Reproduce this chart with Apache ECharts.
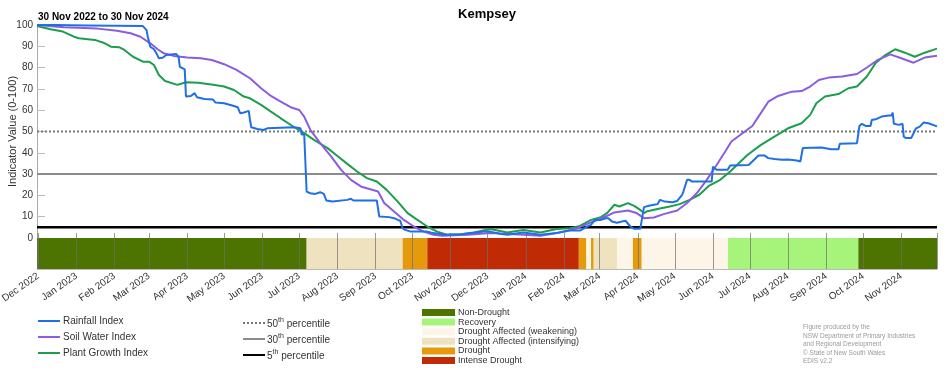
<!DOCTYPE html>
<html><head><meta charset="utf-8">
<script src="https://cdn.jsdelivr.net/npm/echarts@6/dist/echarts.min.js"></script>
<style>html,body{margin:0;padding:0;background:#fff}#c{width:952px;height:370px}</style>
</head><body><div id="c"></div>
<script>
const startDate = '2022-11-30';
const endDate = '2024-11-30';
const yTicks = [0, 10, 20, 30, 40, 50, 60, 70, 80, 90, 100];

const rainfallIndex = [['2022-11-30',100],['2022-12-15',100],['2023-01-10',99.8],['2023-02-24',99.5],['2023-02-27',97.6],['2023-02-28',94.5],['2023-03-02',89.8],['2023-03-05',88.6],['2023-03-07',86.7],['2023-03-09',84.4],['2023-03-12',84.6],['2023-03-15',85.9],['2023-03-23',86.4],['2023-03-25',85],['2023-03-26',80.4],['2023-03-30',79.2],['2023-03-31',66.4],['2023-04-01',65.6],['2023-04-04',66.7],['2023-04-07',68],['2023-04-09',66.1],['2023-04-15',65.3],['2023-04-22',65],['2023-04-24',63.6],['2023-05-01',63.3],['2023-05-02',62.5],['2023-05-09',62],['2023-05-12',61.4],['2023-05-14',58.6],['2023-05-17',58.9],['2023-05-21',59.7],['2023-05-22',55.4],['2023-05-23',52],['2023-05-28',51.2],['2023-06-02',50.7],['2023-06-05',51.5],['2023-06-27',52],['2023-07-02',51.5],['2023-07-03',48.4],['2023-07-04',48.9],['2023-07-05',49.2],['2023-07-07',21.8],['2023-07-10',21],['2023-07-14',20.7],['2023-07-18',21.5],['2023-07-21',20.7],['2023-07-23',17.6],['2023-07-28',17.1],['2023-08-09',17.9],['2023-08-12',18.4],['2023-08-14',17.6],['2023-09-02',17.6],['2023-09-04',10.1],['2023-09-12',9.8],['2023-09-16',9.3],['2023-09-19',8.5],['2023-09-21',8.1],['2023-09-23',4.6],['2023-09-25',3.8],['2023-09-29',3.1],['2023-10-13',3],['2023-10-18',2.3],['2023-10-27',1.5],['2023-11-10',1.8],['2023-11-28',3],['2023-12-03',3],['2023-12-11',2],['2023-12-17',1.5],['2023-12-30',2.6],['2024-01-13',1.5],['2024-01-26',2.3],['2024-02-06',3.5],['2024-02-14',3.5],['2024-02-20',5.4],['2024-02-23',6.2],['2024-02-26',8.5],['2024-03-02',8.5],['2024-03-06',9.3],['2024-03-08',9.3],['2024-03-11',7.7],['2024-03-15',7.2],['2024-03-19',7.7],['2024-03-22',8.1],['2024-03-26',5.4],['2024-03-29',4.3],['2024-04-03',4.3],['2024-04-06',14.5],['2024-04-10',15.1],['2024-04-14',15.6],['2024-04-17',15.9],['2024-04-19',17.9],['2024-04-23',17.1],['2024-04-29',16.8],['2024-05-03',17.4],['2024-05-07',20.3],['2024-05-08',21.8],['2024-05-11',27.3],['2024-05-13',27.3],['2024-05-15',26.5],['2024-05-31',26.5],['2024-06-01',33.5],['2024-06-04',32],['2024-06-13',32],['2024-06-15',34],['2024-06-30',34.3],['2024-07-03',35.9],['2024-07-08',38.7],['2024-07-13',38.7],['2024-07-16',37.5],['2024-07-21',37.1],['2024-07-27',36.7],['2024-08-01',36.9],['2024-08-08',36.4],['2024-08-11',35.9],['2024-08-13',42.2],['2024-08-28',42.5],['2024-09-05',41.7],['2024-09-11',41.7],['2024-09-12',44.2],['2024-09-26',44.5],['2024-09-28',52.6],['2024-09-30',53.6],['2024-10-03',52.6],['2024-10-07',52.6],['2024-10-08',55.4],['2024-10-12',55.9],['2024-10-16',57],['2024-10-22',57.5],['2024-10-24',57.5],['2024-10-25',58.9],['2024-10-26',53.6],['2024-10-30',53.1],['2024-11-02',53.6],['2024-11-03',47.6],['2024-11-05',46.9],['2024-11-09',46.9],['2024-11-11',49.2],['2024-11-13',51.5],['2024-11-16',52.3],['2024-11-19',54.2],['2024-11-23',53.9],['2024-11-30',52.4]];

const soilWaterIndex = [['2022-11-30',100],['2022-12-22',98.9],['2023-01-18',98.3],['2023-02-03',97.3],['2023-02-14',96.1],['2023-02-22',94.5],['2023-03-02',91.4],['2023-03-08',88.6],['2023-03-13',86.7],['2023-03-21',85.5],['2023-04-01',84.7],['2023-04-12',84.4],['2023-04-21',83.6],['2023-05-01',81.6],['2023-05-11',78.9],['2023-05-22',75],['2023-05-31',70.3],['2023-06-08',66.7],['2023-06-16',64],['2023-06-24',61.4],['2023-07-01',60.1],['2023-07-05',57],['2023-07-10',50.8],['2023-07-18',44.5],['2023-07-27',38.2],['2023-08-04',32],['2023-08-12',27.3],['2023-08-20',24.2],['2023-09-03',21.8],['2023-09-08',16.4],['2023-09-16',12.4],['2023-09-24',8.5],['2023-10-02',5.4],['2023-10-10',3],['2023-10-18',1.5],['2023-10-25',1],['2023-11-15',1.5],['2023-12-03',2.3],['2023-12-30',1.5],['2024-01-13',1],['2024-01-26',2.3],['2024-02-12',4.6],['2024-02-23',7.3],['2024-03-06',10.1],['2024-03-13',12],['2024-03-24',12.9],['2024-03-31',11.7],['2024-04-06',9.3],['2024-04-14',9.6],['2024-04-22',11.2],['2024-05-03',12.9],['2024-05-11',16.4],['2024-05-19',21.1],['2024-05-27',27.3],['2024-06-04',34.3],['2024-06-11',40.6],['2024-06-16',45.3],['2024-06-25',49.2],['2024-07-03',52.6],['2024-07-08',57],['2024-07-16',64],['2024-07-24',66.7],['2024-08-04',68.7],['2024-08-12',69],['2024-08-19',71.1],['2024-08-26',74.2],['2024-09-03',75.3],['2024-09-14',75.8],['2024-09-26',77],['2024-10-05',80.4],['2024-10-13',83.6],['2024-10-23',86.2],['2024-11-01',84.4],['2024-11-11',82.3],['2024-11-20',84.7],['2024-11-30',85.6]];

const plantGrowthIndex = [['2022-11-30',99.5],['2022-12-11',98],['2022-12-21',96.9],['2022-12-30',94.5],['2023-01-03',93.8],['2023-01-16',93],['2023-01-23',91.7],['2023-01-29',89.8],['2023-02-05',89.5],['2023-02-09',88.3],['2023-02-16',85.1],['2023-02-24',82.8],['2023-03-01',82.8],['2023-03-05',81.2],['2023-03-09',76.5],['2023-03-14',73.7],['2023-03-24',71.9],['2023-03-31',73.1],['2023-04-10',72.9],['2023-04-22',71.9],['2023-05-01',71.1],['2023-05-09',69.5],['2023-05-17',66.4],['2023-05-22',65.6],['2023-05-31',62.5],['2023-06-08',59.3],['2023-06-16',56.2],['2023-06-27',52],['2023-07-05',49.2],['2023-07-13',46.1],['2023-07-24',42.2],['2023-07-31',39],['2023-08-09',34.8],['2023-08-17',31.2],['2023-08-25',28.1],['2023-09-02',26.5],['2023-09-10',22.6],['2023-09-19',17.1],['2023-09-27',11.7],['2023-10-05',8.5],['2023-10-13',5.4],['2023-10-21',3],['2023-10-29',1.5],['2023-11-09',1.8],['2023-11-20',2.6],['2023-12-03',4.2],['2023-12-17',2.6],['2023-12-30',3.8],['2024-01-13',2.6],['2024-01-26',4.2],['2024-02-06',4.6],['2024-02-14',5.7],['2024-02-23',8.5],['2024-03-02',9.8],['2024-03-07',11.7],['2024-03-13',15.6],['2024-03-17',14.8],['2024-03-24',16.4],['2024-03-29',15.1],['2024-04-03',13.2],['2024-04-06',11.7],['2024-04-08',12.4],['2024-04-17',13.6],['2024-04-27',14.8],['2024-05-05',15.9],['2024-05-13',17.9],['2024-05-21',20.3],['2024-05-29',24.6],['2024-06-07',27.3],['2024-06-15',31.2],['2024-06-29',39],['2024-07-10',43.7],['2024-07-21',47.6],['2024-08-01',51.5],['2024-08-12',53.9],['2024-08-19',57.8],['2024-08-24',63.3],['2024-08-31',66.4],['2024-09-11',67.6],['2024-09-19',70.3],['2024-09-26',71.1],['2024-10-04',75.8],['2024-10-11',82],['2024-10-19',85.9],['2024-10-27',88.6],['2024-11-04',87],['2024-11-12',85.1],['2024-11-20',87],['2024-11-30',88.9]];

const percentileNames = ['50th percentile', '30th percentile', '5th percentile'];
const percentileValues = [50, 30, 5];

const droughtClasses = ['Non-Drought', 'Recovery', 'Drought Affected (weakening)', 'Drought Affected (intensifying)', 'Drought', 'Intense Drought'];
const droughtPeriods = [
  ['2022-11-30','2023-07-07',0],
  ['2023-07-07','2023-09-23',3],
  ['2023-09-23','2023-10-13',4],
  ['2023-10-13','2024-02-13',5],
  ['2024-02-13','2024-02-19',4],
  ['2024-02-19','2024-02-23',2],
  ['2024-02-23','2024-02-25',4],
  ['2024-02-25','2024-03-15',3],
  ['2024-03-15','2024-03-28',2],
  ['2024-03-28','2024-04-04',4],
  ['2024-04-04','2024-06-13',2],
  ['2024-06-13','2024-09-27',1],
  ['2024-09-27','2024-11-30',0]
];

const footerLines = ['Figure produced by the', 'NSW Department of Primary Industries', 'and Regional Development', '\u00A9 State of New South Wales', 'EDIS v2.2'];

// styles
const lineColors = {'Rainfall Index': '#1f6fe6', 'Soil Water Index': '#8a5ce0', 'Plant Growth Index': '#1c9e4c'};
const pctStyles = [
  {color: '#777', width: 2, type: [2, 2]},
  {color: '#8c8c8c', width: 2, type: 'solid'},
  {color: '#000', width: 2.5, type: 'solid'}
];
const droughtColors = ['#4d7300', '#a6f57a', '#fdf5e8', '#eee2bf', '#e59a0c', '#c02a05'];
const FONT = 'Liberation Sans';
const MONTH = 30 * 24 * 3600 * 1000;

const chart = echarts.init(document.getElementById('c'));

const series = [];
percentileNames.forEach((n, i) => {
  series.push({
    name: n, type: 'line', xAxisIndex: 0, yAxisIndex: 0, symbol: 'none', silent: true,
    data: [[startDate, percentileValues[i]], [endDate, percentileValues[i]]],
    lineStyle: pctStyles[i], itemStyle: {color: pctStyles[i].color}, z: 2
  });
});
[['Plant Growth Index', plantGrowthIndex], ['Soil Water Index', soilWaterIndex], ['Rainfall Index', rainfallIndex]].forEach(([n, d]) => {
  series.push({
    name: n, type: 'line', xAxisIndex: 0, yAxisIndex: 0, symbol: 'none', data: d,
    lineStyle: {color: lineColors[n], width: 2}, itemStyle: {color: lineColors[n]}, z: 3
  });
});
droughtClasses.forEach((n, ci) => {
  series.push({
    name: n, type: 'custom', xAxisIndex: 1, yAxisIndex: 1, z: 1,
    dimensions: [{name: 's', type: 'time'}, {name: 'e', type: 'time'}],
    encode: {x: [0, 1]},
    itemStyle: {color: droughtColors[ci]},
    data: droughtPeriods.filter(p => p[2] === ci).map(p => [p[0], p[1]]),
    renderItem: function (params, api) {
      const p0 = api.coord([api.value(0), 1]);
      const p1 = api.coord([api.value(1), 0]);
      return {type: 'rect', shape: {x: p0[0], y: p0[1], width: p1[0] - p0[0], height: p1[1] - p0[1]},
        style: {fill: droughtColors[ci]}};
    }
  });
});

const option = {
  animation: false,
  textStyle: {fontFamily: FONT},
  title: [
    {text: 'Kempsey', left: 482, top: 3, textAlign: 'center', textStyle: {fontSize: 13, fontWeight: 'bold', color: '#000', fontFamily: FONT}},
    {text: '30 Nov 2022 to 30 Nov 2024', left: 33, top: 7, textStyle: {fontSize: 10, fontWeight: 'bold', color: '#000', fontFamily: FONT}}
  ],
  grid: [
    {left: 37, top: 25, width: 900, height: 213, containLabel: false, outerBoundsMode: 'none'},
    {left: 37, top: 238, width: 900, height: 31, containLabel: false, outerBoundsMode: 'none'}
  ],
  xAxis: [
    {type: 'time', gridIndex: 0, min: startDate, max: endDate, splitNumber: 24, minInterval: MONTH * 0.93, maxInterval: MONTH * 1.04,
      axisLine: {show: false}, axisLabel: {show: false},
      axisTick: {show: true, inside: true, length: 5, lineStyle: {color: '#999'}}, splitLine: {show: false}},
    {type: 'time', gridIndex: 1, min: startDate, max: endDate, splitNumber: 24, minInterval: MONTH * 0.93, maxInterval: MONTH * 1.04, z: 5,
      axisLine: {show: true, lineStyle: {color: '#bbb'}}, axisTick: {show: false},
      splitLine: {show: true, lineStyle: {color: 'rgba(110,110,110,0.7)', width: 1}},
      axisLabel: {rotate: 35, fontSize: 10, color: '#333', margin: 6, formatter: '{MMM} {yyyy}', fontFamily: FONT}}
  ],
  yAxis: [
    {type: 'value', gridIndex: 0, min: 0, max: 100, interval: 10,
      name: 'Indicator Value (0-100)', nameLocation: 'middle', nameGap: 19, nameMoveOverlap: false,
      nameTextStyle: {fontSize: 11, color: '#333', fontFamily: FONT},
      axisLine: {show: true, lineStyle: {color: '#aaa'}},
      axisTick: {show: true, inside: true, length: 8, lineStyle: {color: '#bbb'}},
      axisLabel: {fontSize: 10, color: '#333', margin: 4, fontFamily: FONT,
        formatter: v => yTicks.indexOf(v) >= 0 ? String(v) : ''},
      splitLine: {show: false}},
    {type: 'value', gridIndex: 1, min: 0, max: 1, show: false}
  ],
  legend: [
    {data: ['Rainfall Index', 'Soil Water Index', 'Plant Growth Index'], orient: 'vertical', left: 37, top: 316, padding: 0,
      itemWidth: 22, itemHeight: 1, itemGap: 6, selectedMode: false, itemStyle: {opacity: 0},
      textStyle: {fontSize: 10, color: '#333', fontFamily: FONT, padding: [0, 0, 0, -2]}},
    {data: percentileNames, orient: 'vertical', left: 242, top: 317, padding: 0,
      itemWidth: 22, itemHeight: 1, itemGap: 4, selectedMode: false, itemStyle: {opacity: 0},
      formatter: name => { const m = name.match(/^(\d+)(th) (.*)$/); return '{n|' + m[1] + '}{s|' + m[2] + '}{n| ' + m[3] + '}'; },
      textStyle: {fontSize: 10, color: '#333', fontFamily: FONT, padding: [0, 0, 0, -3],
        rich: {n: {fontSize: 10, lineHeight: 12, verticalAlign: 'bottom', color: '#333', fontFamily: FONT},
               s: {fontSize: 7, lineHeight: 7, verticalAlign: 'top', color: '#333', fontFamily: FONT}}}},
    {data: droughtClasses, orient: 'vertical', left: 422, top: 308, height: 80, padding: 0, icon: 'rect',
      itemWidth: 33, itemHeight: 7, itemGap: 0.6, selectedMode: false,
      textStyle: {fontSize: 9, lineHeight: 9, color: '#333', fontFamily: FONT, padding: [0, 0, 0, -2]}}
  ],
  graphic: [
    {type: 'text', left: 803, top: 323, silent: true,
      style: {text: footerLines.join('\n'), fontSize: 6.5, lineHeight: 8.5, fill: '#9a9a9a', fontFamily: FONT}}
  ],
  series: series
};
chart.setOption(option);
</script>
</body></html>
